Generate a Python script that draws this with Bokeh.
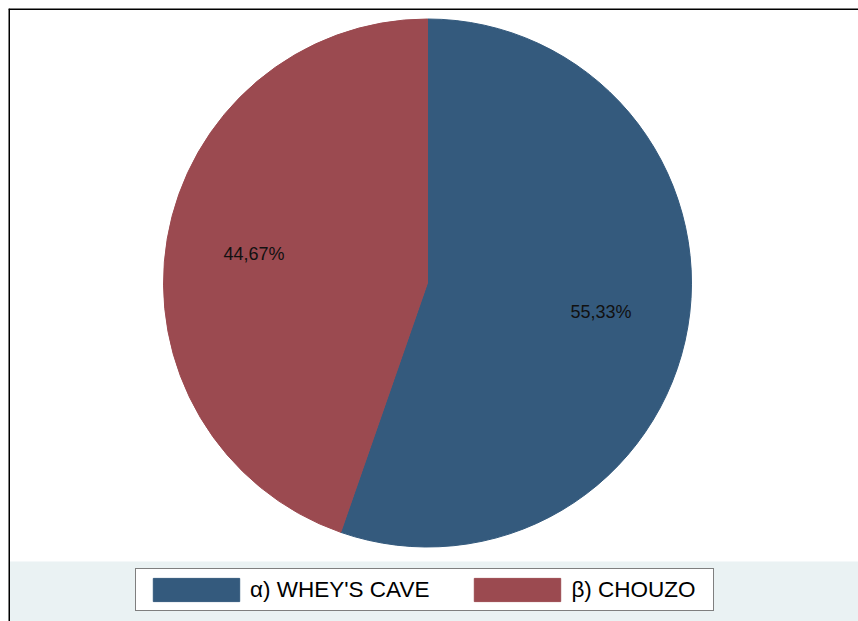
import numpy as np
from bokeh.plotting import figure
from bokeh.models import Range1d, Legend, LegendItem, ColumnDataSource, Span
from bokeh.core.properties import value
from bokeh.embed import file_html
from bokeh.resources import INLINE

# ---- data ----
categories = ["α) WHEY'S CAVE", "β) CHOUZO"]
shares = [55.33, 44.67]
colors = ["#345a7d", "#9b4a50"]

# ---- layout ----
FW, FH = 850, 613          # frame (plot area) size
cx, cy, r = 419, 338.5, 264
band_top = 60

p = figure(width=FW + 8, height=FH + 8, output_backend="svg", toolbar_location=None,
           x_range=Range1d(0, FW), y_range=Range1d(0, FH),
           min_border_left=8, min_border_top=8, min_border_right=0, min_border_bottom=0)
p.axis.visible = False
p.grid.visible = False
p.outline_line_color = None
p.background_fill_color = "white"
p.border_fill_color = "white"

# bottom band behind legend
p.quad(left=0, right=FW, bottom=0, top=band_top, fill_color="#eaf2f3", line_color=None)

# left and top frame border
p.add_layout(Span(location=0, dimension="height", line_color="black", line_width=3))
p.add_layout(Span(location=FH, dimension="width", line_color="black", line_width=3))

fractions = np.array(shares) / sum(shares)
cum = np.cumsum(fractions)
start = np.pi / 2 - 2 * np.pi * cum
end = np.pi / 2 - 2 * np.pi * (cum - fractions)
mid = (start + end) / 2

source = ColumnDataSource(dict(
    cat=categories, start=start, end=end, color=colors,
    lx=cx + (2 / 3) * r * np.cos(mid),
    ly=cy + (2 / 3) * r * np.sin(mid),
    label=[f"{v:.2f}%".replace(".", ",") for v in shares],
))

wr = p.wedge(x=cx, y=cy, radius=r, start_angle="start", end_angle="end",
             fill_color="color", line_color="color", line_width=1, source=source)

p.text(x="lx", y="ly", text="label", text_align="center", text_baseline="middle",
       text_font_size="18px", text_font=value("Liberation Sans"), text_color="#111111",
       source=source)

legend = Legend(
    items=[LegendItem(label=c, renderers=[wr], index=i) for i, c in enumerate(categories)],
    orientation="horizontal", location=(127, 10),
    glyph_width=108, glyph_height=29,
    label_text_font_size="22.5px", label_text_font="Liberation Sans", label_text_color="#000000",
    label_standoff=0, spacing=34, padding=6, margin=0, label_width=136,
    border_line_color="black", border_line_width=1.5,
    background_fill_color="white", background_fill_alpha=1,
)
p.add_layout(legend)

open("out.html", "w").write(file_html(p, INLINE))
